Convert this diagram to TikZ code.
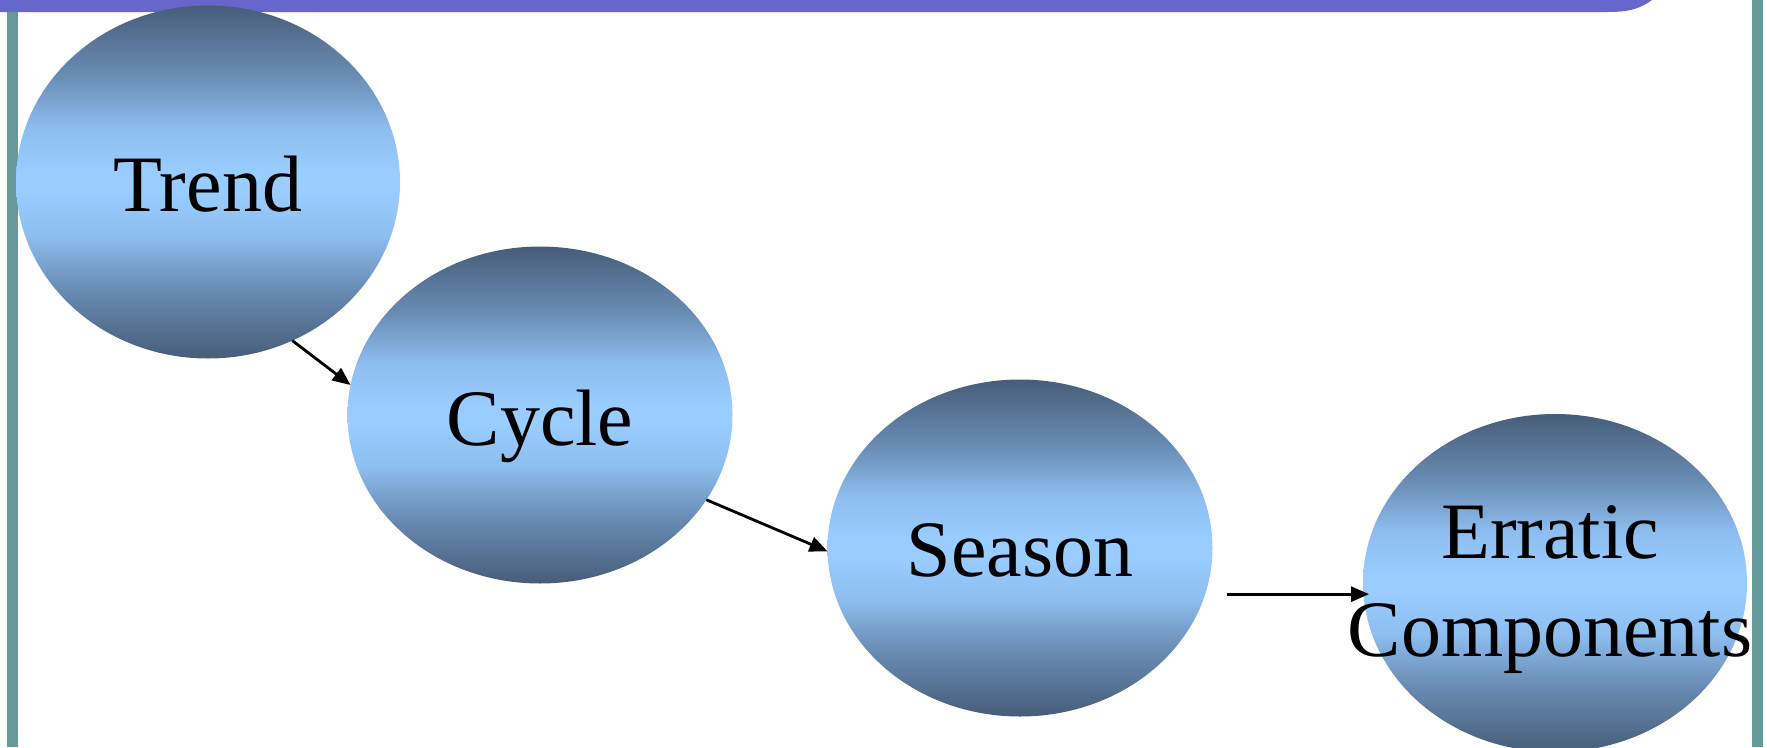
\documentclass[tikz,border=0pt]{standalone}
\usepackage{fontspec}
\setmainfont{Liberation Serif}
\usetikzlibrary{shapes.geometric,arrows.meta}
\definecolor{barpurple}{HTML}{6666CC}
\definecolor{barteal}{HTML}{669999}
\definecolor{blobdark}{HTML}{465D78}
\definecolor{blobmid}{HTML}{6A8DB5}
\definecolor{blobsemi}{HTML}{8EBEF0}
\definecolor{bloblight}{HTML}{99CCFF}
\pgfdeclareverticalshading{blobshade}{100bp}{color(0bp)=(blobdark); color(25bp)=(blobdark); color(35bp)=(blobmid); color(42.5bp)=(blobsemi); color(48.5bp)=(bloblight); color(51.5bp)=(bloblight); color(57.5bp)=(blobsemi); color(65bp)=(blobmid); color(75bp)=(blobdark); color(100bp)=(blobdark)}
\begin{document}
\begin{tikzpicture}[x=1pt,y=-1pt,
 blob/.style={ellipse, inner sep=0pt, outer sep=0pt, draw=none, shading=blobshade},
 lbl/.style={inner sep=0pt, outer sep=0pt, align=center, font=\fontsize{80}{98}\selectfont},
 arr/.style={line width=2.8pt, -{Triangle[length=18pt,width=15pt]}}]
\useasboundingbox (0,0) rectangle (1767,747);
\fill[white] (0,0) rectangle (1767,747);
% frame bars
\fill[barpurple] (0,0) -- (1652,0) .. controls (1640,9) and (1628,12) .. (1608,12) -- (0,12) -- cycle;
\fill[barteal] (7,12) rectangle (18,747);
\fill[barteal] (1752,0) rectangle (1763,747);
% ellipses
\node[blob, minimum width=384pt, minimum height=353pt] (trend) at (208,182) {};
\node[blob, minimum width=385pt, minimum height=337pt] (cycle) at (540,415) {};
\node[blob, minimum width=385pt, minimum height=337pt] (season) at (1020,548) {};
\node[blob, minimum width=384pt, minimum height=338pt] (erratic) at (1555,583) {};
% labels
\node[lbl, anchor=base] (trendT) at (208,211) {Trend};
\node[lbl, anchor=base] (cycleT) at (540,445) {Cycle};
\node[lbl, anchor=base] (seasonT) at (1020,576) {Season};
\node[lbl] (erraticT) at (1550,590) {Erratic\\Components};
% connectors
\draw[arr] (trend.-62.9) -- (cycle.171);
\draw[arr] (cycle.-27.4) -- (season.181.2);
\draw[arr] ([xshift=22pt]season.-14.3) coordinate (s3) -- ([xshift=6pt]s3 -| erratic.west);
\end{tikzpicture}
\end{document}
